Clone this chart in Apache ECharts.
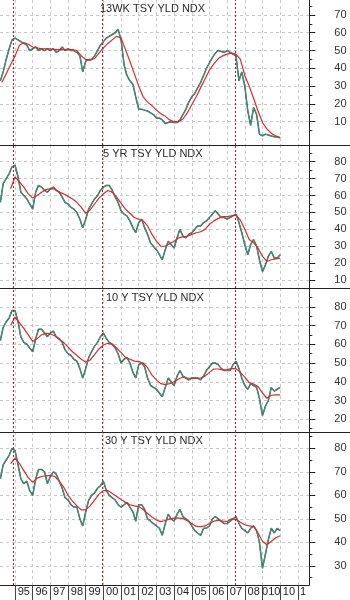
<!DOCTYPE html>
<html>
<head>
<meta charset="utf-8">
<script src="https://cdn.jsdelivr.net/npm/echarts@6.0.0/dist/echarts.min.js"></script>
<style>
  html, body { margin: 0; padding: 0; background: #fff; }
  #main { width: 350px; height: 600px; }
</style>
</head>
<body>
<div id="main"></div>
<script>
// readings taken off the chart: index level every 2 months (green) and the average quarterly (red)
const greenYears = [
  1994.17, 1994.33, 1994.5, 1994.67, 1994.83, 1995,
  1995.17, 1995.33, 1995.5, 1995.67, 1995.83, 1996,
  1996.17, 1996.33, 1996.5, 1996.67, 1996.83, 1997,
  1997.17, 1997.33, 1997.5, 1997.67, 1997.83, 1998,
  1998.17, 1998.33, 1998.5, 1998.67, 1998.83, 1999,
  1999.17, 1999.33, 1999.5, 1999.67, 1999.83, 2000,
  2000.17, 2000.33, 2000.5, 2000.67, 2000.83, 2001,
  2001.17, 2001.33, 2001.5, 2001.67, 2001.83, 2002,
  2002.17, 2002.33, 2002.5, 2002.67, 2002.83, 2003,
  2003.17, 2003.33, 2003.5, 2003.67, 2003.83, 2004,
  2004.17, 2004.33, 2004.5, 2004.67, 2004.83, 2005,
  2005.17, 2005.33, 2005.5, 2005.67, 2005.83, 2006,
  2006.17, 2006.33, 2006.5, 2006.67, 2006.83, 2007,
  2007.17, 2007.33, 2007.5, 2007.67, 2007.83, 2008,
  2008.17, 2008.33, 2008.5, 2008.67, 2008.83, 2009,
  2009.17, 2009.33, 2009.5, 2009.67, 2009.83, 2010
]
const redYears = [
  1994.25, 1994.5, 1994.75, 1995, 1995.25, 1995.5, 1995.75, 1996,
  1996.25, 1996.5, 1996.75, 1997, 1997.25, 1997.5, 1997.75, 1998,
  1998.25, 1998.5, 1998.75, 1999, 1999.25, 1999.5, 1999.75, 2000,
  2000.25, 2000.5, 2000.75, 2001, 2001.25, 2001.5, 2001.75, 2002,
  2002.25, 2002.5, 2002.75, 2003, 2003.25, 2003.5, 2003.75, 2004,
  2004.25, 2004.5, 2004.75, 2005, 2005.25, 2005.5, 2005.75, 2006,
  2006.25, 2006.5, 2006.75, 2007, 2007.25, 2007.5, 2007.75, 2008,
  2008.25, 2008.5, 2008.75, 2009, 2009.25, 2009.5, 2009.75, 2010
]

const wk13Green = [
  33, 38, 45, 51, 56, 57, 56, 55, 54, 53, 50, 51,
  52, 50, 51, 50, 51, 50, 51, 49, 50, 52, 50, 51,
  50, 50, 49, 47, 38, 44, 45, 45, 47, 50, 53, 55,
  57, 58, 59, 60, 62, 56, 42, 36, 33, 31, 24, 17,
  17, 16.5, 16, 15, 14, 12, 12, 11, 9, 9.5, 10, 9.5,
  9.5, 11, 14, 17, 21, 24, 26, 29, 32, 36, 40, 43,
  46, 48.5, 50, 49.5, 49, 50, 49, 48, 47, 33, 38, 30,
  16, 8, 18, 14, 3, 2, 3, 2.5, 2, 1.5, 1.5, 1
]
const wk13Red = [
  32, 37, 42, 47, 53, 54.5, 53.5, 52,
  51.5, 51, 51, 51, 50.5, 50.5, 50.5, 50.5,
  50.5, 50, 47, 45, 44.5, 45.5, 48.5, 51.5,
  54, 56, 58, 57, 50.5, 44, 37, 30,
  24, 21, 19, 16.5, 14.5, 13, 11, 10,
  10, 11.5, 15, 19.5, 24, 29, 34, 39,
  42.5, 45.5, 47, 48, 48.5, 48, 45, 36,
  30, 23, 16, 9.5, 6, 3.5, 2, 1
]

const yr5Green = [
  56, 67, 70, 73, 77, 78, 71, 62, 60, 58, 55, 52,
  62, 66, 65, 63, 62, 64, 65, 63, 62, 59, 56, 55,
  53, 52, 50, 46, 41, 46, 52, 55, 58, 60, 63, 65,
  66, 66, 63, 59, 56, 51, 49, 48, 45, 41, 38, 44,
  46, 41, 37, 32, 30, 28, 25, 22, 28, 33, 31, 29,
  35, 40, 36, 35, 37, 38, 40, 42, 42, 44, 45, 47,
  49, 51, 49, 47, 47, 46, 47, 48, 49, 44, 38, 31,
  25, 31, 34, 30, 22, 15, 19, 24, 27, 23, 23, 25
]
const yr5Red = [
  null, null, 64, 71, 68, 65, 61, 58.5,
  60, 62, 63.5, 64, 64, 62, 61, 59.5,
  58, 56, 53, 49.5, 51.5, 55, 58.5, 61,
  63, 62, 59, 55.5, 52, 49.5, 47, 46,
  45, 42, 37, 33, 30, 30, 31.5, 33,
  35, 35.5, 36, 37, 38, 38.6, 40, 43,
  45, 46.5, 47.5, 47.5, 48, 48.5, 45.5, 40,
  34, 32, 29, 24, 21, 22, 22.5, 23
]

const yr10Green = [
  62, 69, 72, 74, 78, 78, 72, 64, 61, 60, 58, 56,
  63, 68, 68, 66, 64, 66, 67, 64, 63, 61, 57, 55,
  54, 52, 51, 47, 42, 47, 53, 56, 59, 61, 64, 66,
  63, 61, 60, 58, 55, 50, 52, 53, 50, 45, 42, 49,
  50, 48, 42, 38, 37, 36, 34, 32, 37, 42, 40, 38,
  43, 46, 43, 42, 41, 42, 42, 42, 41, 43, 46, 48,
  50, 50, 49, 47, 46, 46, 46, 49, 51, 47, 42, 38,
  36, 39, 38, 37, 31, 22, 27, 30, 37, 35, 36, 37
]
const yr10Red = [
  null, null, 70, 74.5, 71.5, 68.5, 65, 61.5,
  63, 65, 65.8, 65.5, 64.5, 62.5, 61, 58.5,
  56, 54, 52, 50.5, 51.6, 54.5, 57.5, 59.6,
  60.5, 60, 58, 55.5, 53, 52, 51, 50.7,
  50, 47.5, 43.5, 41, 39, 38.5, 39, 40,
  41.5, 42.5, 42, 41.8, 41.8, 42, 43, 45,
  46.8, 46.8, 46.3, 46.5, 47, 47, 45, 42.5,
  39.5, 38.8, 37.5, 34, 31.2, 32.8, 33, 33
]

const yr30Green = [
  67, 73, 75, 77, 80, 79, 73, 67, 65, 66, 62, 60,
  67, 71, 71, 70, 65, 68, 70, 69, 66, 63, 59, 58,
  56, 55, 55, 50, 47, 53, 58, 60, 61, 63, 64, 66,
  62, 60, 59, 58, 56, 55, 56, 57, 55, 53, 49, 56,
  56, 54, 50, 49, 48, 47, 46, 43, 48, 52, 50, 49,
  52, 54, 51, 50, 49, 47, 45, 44, 43, 46, 46, 47,
  50, 51, 50, 49, 48, 48, 49, 50, 51, 48, 46, 45,
  44, 46, 47, 45, 40, 29, 35, 41, 46, 44, 46, 45
]
const yr30Red = [
  null, null, 73.5, 75.8, 73.5, 70.5, 67.5, 65.5,
  67.3, 68, 68.3, 68.5, 68, 66, 63.5, 60,
  57.5, 55.5, 53.8, 53.8, 55.5, 58, 60.5, 62,
  62, 60.8, 59.5, 58.2, 57, 56, 55.5, 55.2,
  54, 52.3, 50.8, 49.5, 48.8, 49.3, 50, 50.3,
  50.3, 50.2, 49.2, 48, 46.8, 46.7, 47, 48,
  49, 49.4, 49, 48.9, 50, 49.8, 48.6, 47.5,
  47, 46.7, 44, 40.5, 39, 40.5, 42, 42.8
]

const titles = ['13WK TSY YLD NDX', '5 YR TSY YLD NDX', '10 Y TSY YLD NDX', '30 Y TSY YLD NDX']
const yTicks = [
  [10, 20, 30, 40, 50, 60, 70],
  [10, 20, 30, 40, 50, 60, 70, 80],
  [20, 30, 40, 50, 60, 70, 80],
  [30, 40, 50, 60, 70, 80]
]
const yMinorTicks = [
  [5, 15, 25, 35, 45, 55, 65, 75],
  [15, 25, 35, 45, 55, 65, 75, 85],
  [15, 25, 35, 45, 55, 65, 75, 85],
  [25, 35, 45, 55, 65, 75, 85]
]
const yearTicks = [1995, 1996, 1997, 1998, 1999, 2000, 2001, 2002, 2003, 2004, 2005, 2006, 2007, 2008, 2009, 2010, 2011]
const yearLabelAt = [1995.5, 1996.5, 1997.5, 1998.5, 1999.5, 2000.5, 2001.5, 2002.5, 2003.5, 2004.5, 2005.5, 2006.5, 2007.5, 2008.5, 2009.5, 2010.5, 2011.3]
const yearLabels = ['95', '96', '97', '98', '99', '00', '01', '02', '03', '04', '05', '06', '07', '08', '010', '10', '1']
const markerYears = [1994.9, 1999.94, 2007.45]

// layout of the four stacked panels
const gridTop = [0, 145, 288, 432]
const gridHeight = [145, 143, 144, 153]
const yMin = [-3.1, 5.3, 13.2, 21.9]
const yMax = [78.4, 89.9, 90, 86.9]
const titleLeft = [100, 103, 106, 105]
const titleTop = [3, 148, 292, 435]

const greens = [wk13Green, yr5Green, yr10Green, yr30Green]
const reds = [wk13Red, yr5Red, yr10Red, yr30Red]

const font = 'Liberation Sans, Arial, sans-serif'
const gridLine = { show: true, lineStyle: { color: '#c8c8c8', width: 1, type: [3, 3] } }
const pairs = (xs, ys) => xs.map((x, i) => [x, ys[i]])

let chart = null
const drawChart = () => {
  chart = echarts.init(document.getElementById('main'), null, { renderer: 'canvas' })

  const grid = [], xAxis = [], yAxis = [], series = [], title = []
  gridTop.forEach((top, k) => {
    grid.push({ left: 0, right: 40.7, top: top, height: gridHeight[k], outerBoundsMode: 'none', containLabel: false })
    title.push({
      text: titles[k], left: titleLeft[k], top: titleTop[k], padding: 0,
      textStyle: { fontSize: 11, fontWeight: 'normal', color: '#2a2a2a', fontFamily: font }
    })
    xAxis.push({
      type: 'value', gridIndex: k, min: 1994.15, max: 2011.65,
      axisLine: { show: true, onZero: false, lineStyle: { color: '#222', width: 1 } },
      axisTick: { show: k === 3, customValues: yearTicks, length: 15, lineStyle: { color: '#444' } },
      axisLabel: {
        show: k === 3, customValues: yearLabelAt, margin: 1,
        fontSize: 11, color: '#222', fontFamily: font,
        formatter: v => {
          const i = yearLabelAt.findIndex(y => Math.abs(y - v) < 1e-6)
          return i < 0 ? '' : yearLabels[i]
        }
      },
      splitLine: gridLine
    })
    yAxis.push({
      type: 'value', gridIndex: k, position: 'right', min: yMin[k], max: yMax[k],
      axisLine: { show: true, onZero: false, lineStyle: { color: '#222', width: 1 } },
      axisTick: { show: true, customValues: yTicks[k], length: 6, lineStyle: { color: '#222' } },
      axisLabel: { customValues: yTicks[k], margin: 25, fontSize: 11, color: '#333', fontFamily: font, padding: [5, 0, 0, 0] },
      splitLine: gridLine
    })
    yAxis.push({
      type: 'value', gridIndex: k, position: 'right', min: yMin[k], max: yMax[k],
      axisLine: { show: false, onZero: false },
      axisTick: { show: true, customValues: yMinorTicks[k], length: 3, lineStyle: { color: '#222' } },
      axisLabel: { show: false },
      splitLine: { show: false }
    })

    const data = pairs(greenYears, greens[k])
    series.push({
      type: 'line', xAxisIndex: k, yAxisIndex: 2 * k, data: data, showSymbol: false, silent: true, z: 2,
      lineStyle: { color: '#161616', width: 1.5, opacity: 0.75 }
    })
    series.push({
      type: 'line', xAxisIndex: k, yAxisIndex: 2 * k, data: data, showSymbol: false, silent: true, z: 3,
      lineStyle: { color: '#2f9f80', width: 1 }
    })
    series.push({
      type: 'line', xAxisIndex: k, yAxisIndex: 2 * k, data: pairs(redYears, reds[k]), showSymbol: false, silent: true, z: 4,
      lineStyle: { color: '#e3262b', width: 1.2 },
      markLine: {
        symbol: 'none', silent: true, animation: false, label: { show: false },
        lineStyle: { color: '#a81c1c', width: 1, type: [2, 2], opacity: 1 },
        data: markerYears.map(x => ({ xAxis: x }))
      }
    })
  })

  chart.setOption({
    backgroundColor: '#fff',
    animation: false,
    title: title,
    grid: grid,
    xAxis: xAxis,
    yAxis: yAxis,
    series: series,
    // panel separators run on past the right axis
    graphic: [145.5, 288.5, 432.5].map(y => ({
      type: 'line', shape: { x1: 309, y1: y, x2: 350, y2: y }, style: { stroke: '#222', lineWidth: 1 }
    }))
  })
}

drawChart()
</script>
</body>
</html>
